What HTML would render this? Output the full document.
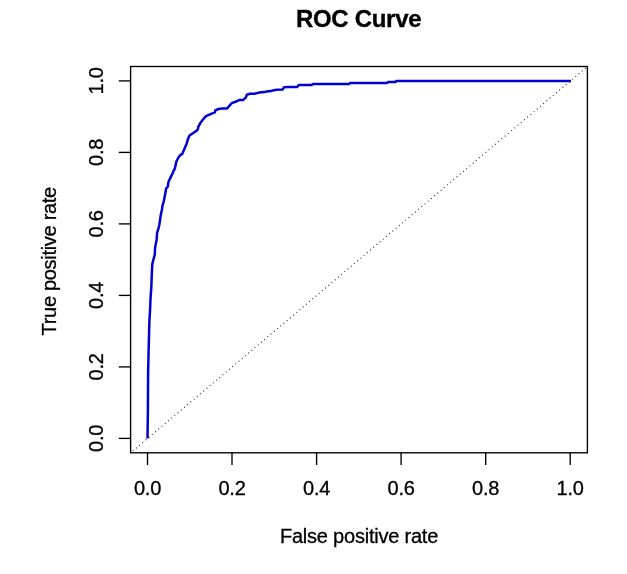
<!DOCTYPE html>
<html><head><meta charset="utf-8"><style>
html,body{margin:0;padding:0;background:#fff;}
svg{display:block;will-change:transform;}
.lab{font-family:"Liberation Sans",sans-serif;font-size:20px;fill:#000;letter-spacing:-0.22px;stroke:#000;stroke-width:0.3px;}
.title{font-family:"Liberation Sans",sans-serif;font-size:24px;font-weight:bold;fill:#000;letter-spacing:-0.3px;stroke:#000;stroke-width:0.35px;}
</style></head><body>
<svg width="627" height="574" viewBox="0 0 627 574">
<rect width="627" height="574" fill="#fff"/>
<rect x="130.6" y="66.5" width="456.8" height="386.3" fill="none" stroke="#000" stroke-width="1.35"/>
<line x1="147.5" y1="452.8" x2="147.5" y2="465.0" stroke="#000" stroke-width="1.35"/>
<text x="147.5" y="495" text-anchor="middle" class="lab">0.0</text>
<line x1="232.0" y1="452.8" x2="232.0" y2="465.0" stroke="#000" stroke-width="1.35"/>
<text x="232.0" y="495" text-anchor="middle" class="lab">0.2</text>
<line x1="316.6" y1="452.8" x2="316.6" y2="465.0" stroke="#000" stroke-width="1.35"/>
<text x="316.6" y="495" text-anchor="middle" class="lab">0.4</text>
<line x1="401.1" y1="452.8" x2="401.1" y2="465.0" stroke="#000" stroke-width="1.35"/>
<text x="401.1" y="495" text-anchor="middle" class="lab">0.6</text>
<line x1="485.7" y1="452.8" x2="485.7" y2="465.0" stroke="#000" stroke-width="1.35"/>
<text x="485.7" y="495" text-anchor="middle" class="lab">0.8</text>
<line x1="570.2" y1="452.8" x2="570.2" y2="465.0" stroke="#000" stroke-width="1.35"/>
<text x="570.2" y="495" text-anchor="middle" class="lab">1.0</text>
<line x1="130.6" y1="438.4" x2="118.8" y2="438.4" stroke="#000" stroke-width="1.35"/>
<text x="103" y="438.4" text-anchor="middle" class="lab" transform="rotate(-90 103 438.4)">0.0</text>
<line x1="130.6" y1="366.9" x2="118.8" y2="366.9" stroke="#000" stroke-width="1.35"/>
<text x="103" y="366.9" text-anchor="middle" class="lab" transform="rotate(-90 103 366.9)">0.2</text>
<line x1="130.6" y1="295.4" x2="118.8" y2="295.4" stroke="#000" stroke-width="1.35"/>
<text x="103" y="295.4" text-anchor="middle" class="lab" transform="rotate(-90 103 295.4)">0.4</text>
<line x1="130.6" y1="223.9" x2="118.8" y2="223.9" stroke="#000" stroke-width="1.35"/>
<text x="103" y="223.9" text-anchor="middle" class="lab" transform="rotate(-90 103 223.9)">0.6</text>
<line x1="130.6" y1="152.4" x2="118.8" y2="152.4" stroke="#000" stroke-width="1.35"/>
<text x="103" y="152.4" text-anchor="middle" class="lab" transform="rotate(-90 103 152.4)">0.8</text>
<line x1="130.6" y1="80.9" x2="118.8" y2="80.9" stroke="#000" stroke-width="1.35"/>
<text x="103" y="80.9" text-anchor="middle" class="lab" transform="rotate(-90 103 80.9)">1.0</text>
<line x1="130.6" y1="452.8" x2="587.4" y2="66.5" stroke="#111" stroke-width="1.15" stroke-dasharray="0.85 3.35" stroke-dashoffset="1.3"/>
<path d="M147.50 438.50 L147.90 411.80 L148.10 374.10 L148.50 354.70 L149.10 332.40 L149.40 321.30 L150.00 311.10 L150.50 299.20 L151.40 285.80 L151.80 274.10 L152.30 264.10 L153.80 258.10 L154.80 254.70 L155.00 248.50 L155.70 244.30 L156.60 240.10 L157.10 232.80 L158.40 228.60 L159.40 224.50 L160.00 220.30 L160.60 216.10 L161.90 209.70 L162.50 205.50 L163.80 201.30 L164.60 197.10 L165.60 192.10 L166.10 188.60 L167.90 186.50 L168.40 182.30 L170.00 178.60 L172.10 174.40 L173.80 170.60 L175.00 168.10 L176.30 161.70 L178.40 157.50 L180.00 155.40 L182.50 153.70 L183.40 151.20 L185.00 147.40 L186.50 144.10 L187.90 139.30 L189.50 135.60 L192.50 133.50 L196.20 131.00 L197.90 129.30 L198.30 126.80 L200.40 122.90 L203.00 119.60 L205.30 116.70 L207.70 115.40 L211.20 113.90 L214.80 112.40 L215.30 110.30 L218.40 109.00 L221.90 108.50 L227.10 108.60 L228.60 106.70 L230.60 104.40 L232.10 102.90 L235.70 101.70 L239.20 100.10 L243.30 99.90 L245.90 97.30 L246.90 94.80 L250.00 93.80 L254.50 93.80 L257.60 93.00 L259.10 92.60 L264.70 92.10 L266.20 91.60 L271.30 91.10 L272.80 90.40 L276.40 89.80 L282.50 89.60 L284.10 87.30 L288.00 86.90 L297.20 86.90 L298.80 85.10 L311.50 85.10 L313.10 83.90 L349.20 83.90 L350.20 82.90 L387.20 82.90 L388.20 81.90 L395.40 81.90 L396.10 80.95 L571.00 80.95" fill="none" stroke="#0000d0" stroke-width="2.5" stroke-linejoin="round"/>
<text x="358.6" y="26.6" text-anchor="middle" class="title">ROC Curve</text>
<text x="359" y="543" text-anchor="middle" class="lab">False positive rate</text>
<text x="55.8" y="261.3" text-anchor="middle" class="lab" style="letter-spacing:-0.3px" transform="rotate(-90 55.8 261.3)">True positive rate</text>
</svg></body></html>
